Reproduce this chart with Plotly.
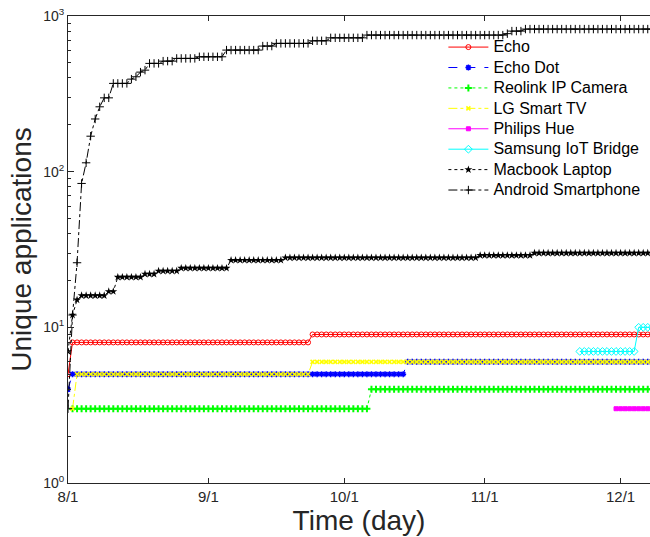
import plotly.graph_objects as go
import pandas as pd

START = "2017-08-01"

# Values per day (day 0 = 8/1); each series has its own start day
echo_start = 0
echo = [5] + [8]*53 + [9]*76
echo_dot_start = 0
echo_dot = [4] + [5]*74 + [6]*55
reolink_start = 1
reolink = [3]*66 + [4]*63
lg_start = 1
lg_tv = [3] + [5]*52 + [6]*76
hue_start = 121
hue = [3]*9
samsung_start = 113
samsung = [7]*13 + [10]*4
macbook_start = 0
macbook = ([7, 12, 15] + [16]*6 + [17]*2 + [21]*6 + [22]*3 + [23]*5 + [24]*11
           + [27]*12 + [28]*43 + [29]*12 + [30]*27)
android_start = 0
android = ([3, 12, 26, 84, 114, 169, 218, 261] + [298]*2 + [369]*4 + [393, 407, 436, 449]
           + [496]*3 + [513]*3 + [534]*5 + [547]*6 + [604]*8 + [641]*3 + [667]*8
           + [693]*4 + [724]*8 + [754]*31 + [770] + [800]*3 + [824]*29)

x_tick_vals = ["2017-08-01", "2017-09-01", "2017-10-01", "2017-11-01", "2017-12-01"]
x_tick_text = ["8/1", "9/1", "10/1", "11/1", "12/1"]
y_tick_vals = [1, 10, 100, 1000]
y_tick_text = ["10<sup>0</sup>", "10<sup>1</sup>", "10<sup>2</sup>", "10<sup>3</sup>"]


def dates(start, n):
    return pd.date_range(pd.Timestamp(START) + pd.Timedelta(days=start), periods=n, freq="D")


series = [
    ("Echo", echo_start, echo, "#FF0000", "solid", "circle-open", 5, 1),
    ("Echo Dot", echo_dot_start, echo_dot, "#0000FF", "dash", "asterisk-open", 5, 1.5),
    ("Reolink IP Camera", reolink_start, reolink, "#00FF00", "dot", "cross-thin-open", 5, 2),
    ("LG Smart TV", lg_start, lg_tv, "#FFFF00", "dashdot", "x-thin-open", 4, 1.5),
    ("Philips Hue", hue_start, hue, "#FF00FF", "solid", "square", 4, 1),
    ("Samsung IoT Bridge", samsung_start, samsung, "#00FFFF", "solid", "diamond-open", 6, 1),
    ("Macbook Laptop", macbook_start, macbook, "#000000", "dot", "star", 6, 0),
    ("Android Smartphone", android_start, android, "#000000", "dashdot", "cross-thin-open", 6, 1),
]

fig = go.Figure()
for name, st, vals, color, dash, sym, size, mlw in series:
    fig.add_trace(go.Scatter(
        x=dates(st, len(vals)), y=vals,
        name='<span style="font-size:16px">' + name + '</span>',
        mode="lines+markers",
        line=dict(color=color, width=1, dash=dash),
        marker=dict(symbol=sym, size=size, color=color, line=dict(color=color, width=mlw)),
    ))

font = "Liberation Sans, Arial, Helvetica, sans-serif"
axcol = "#262626"
fig.update_layout(
    width=650, height=537,
    margin=dict(l=68, r=0, t=16, b=54),
    plot_bgcolor="white", paper_bgcolor="white",
    font=dict(family=font, color=axcol, size=14),
    showlegend=True,
    legend=dict(x=0.645, y=0.966, xanchor="left", yanchor="top",
                bgcolor="rgba(255,255,255,0)", font=dict(size=13.4, color="#000000"),
                itemwidth=40, tracegroupgap=0),
    xaxis=dict(
        range=["2017-08-01", "2017-12-07 12:00"],
        tickvals=x_tick_vals, ticktext=x_tick_text,
        ticks="inside", ticklen=5, tickcolor=axcol, tickwidth=1,
        showline=True, linecolor=axcol, linewidth=1, mirror="ticks",
        showgrid=False, zeroline=False,
        tickfont=dict(size=15, color=axcol),
        title=dict(text="Time (day)", font=dict(size=28, color=axcol), standoff=5),
    ),
    yaxis=dict(
        type="log", range=[0, 3],
        tickvals=y_tick_vals, ticktext=y_tick_text,
        ticks="inside", ticklen=6, tickcolor=axcol, tickwidth=1,
        minor=dict(ticks="inside", ticklen=3, tickcolor=axcol, dtick="D1", showgrid=False),
        showline=True, linecolor=axcol, linewidth=1, mirror=False,
        showgrid=False, zeroline=False,
        tickfont=dict(size=14, color=axcol),
        title=dict(text="Unique applications", font=dict(size=28, color=axcol), standoff=3),
    ),
)

fig.write_html("out.html")
